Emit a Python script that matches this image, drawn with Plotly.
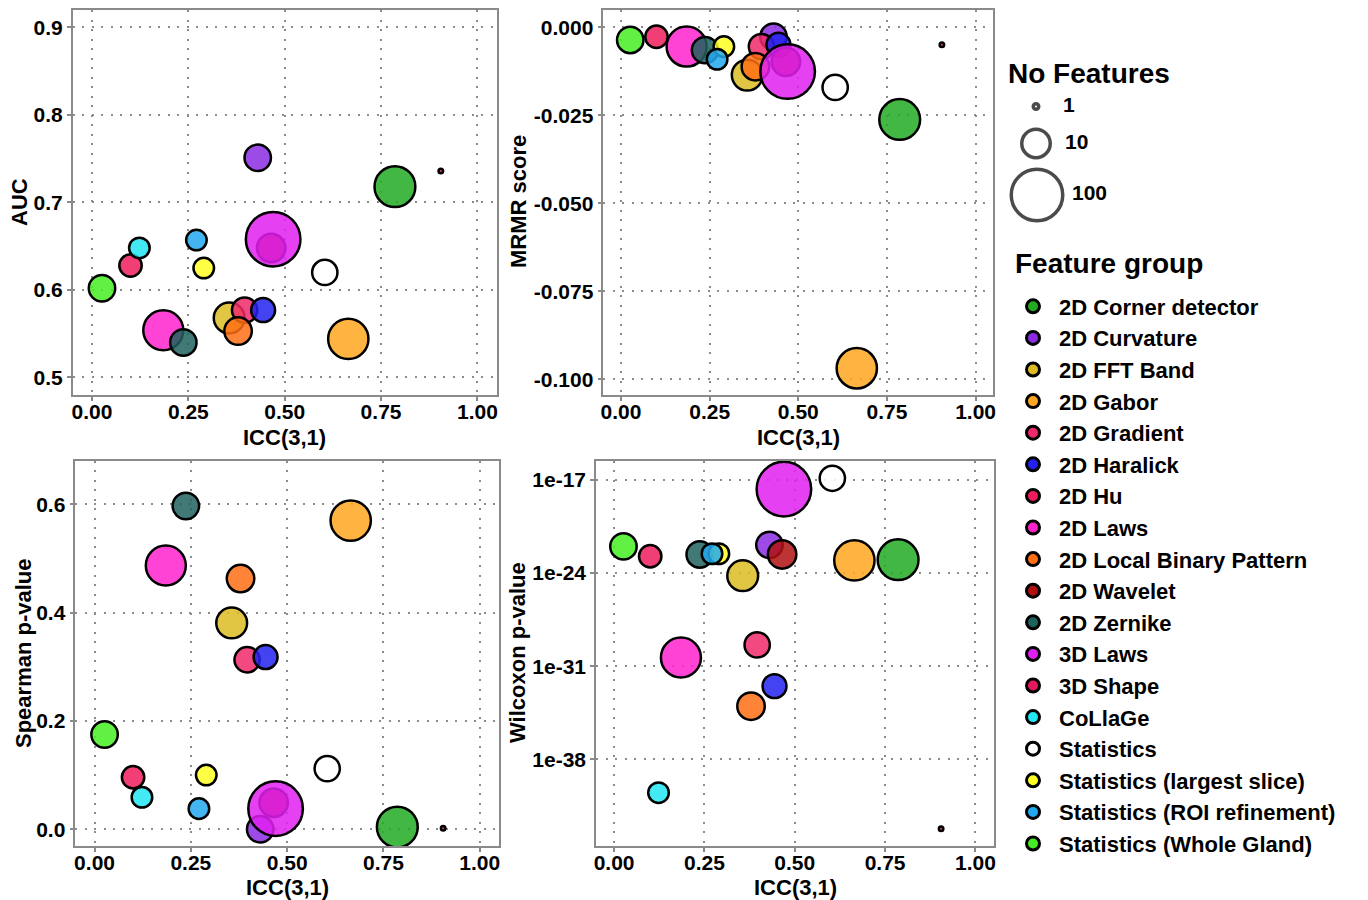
import numpy as np
import plotly.graph_objects as go

# ---------------- data ----------------
groups = ["2D Corner detector", "2D Curvature", "2D FFT Band", "2D Gabor", "2D Gradient",
          "2D Haralick", "2D Hu", "2D Laws", "2D Local Binary Pattern", "2D Wavelet",
          "2D Zernike", "3D Laws", "3D Shape", "CoLlaGe", "Statistics",
          "Statistics (largest slice)", "Statistics (ROI refinement)", "Statistics (Whole Gland)"]
colors = ["#22aa22", "#8b2be2", "#dcbc22", "#ffa620", "#f02a6a",
          "#2222ee", "#ee1c5c", "#ff22cc", "#ff6e14", "#b01010",
          "#1e625e", "#e020f0", "#e8185c", "#22e6f2", "#ffffff",
          "#ffff22", "#22a8ee", "#44ee22"]
n_features = [38, 9, 14, 36, 8, 7, 6, 35, 10, 11, 9, 150, 1, 5, 8, 5, 5, 9]
icc = [0.786, 0.430, 0.356, 0.665, 0.396, 0.444, 0.100, 0.185, 0.379, 0.465,
       0.237, 0.470, 0.905, 0.123, 0.604, 0.290, 0.271, 0.026]
auc = [0.718, 0.751, 0.568, 0.544, 0.577, 0.577, 0.628, 0.554, 0.553, 0.648,
       0.540, 0.658, 0.736, 0.648, 0.620, 0.625, 0.657, 0.602]
mrmr = [-0.0262, -0.0027, -0.0136, -0.0969, -0.0055, -0.0050, -0.0027, -0.0055, -0.0112, -0.0098,
        -0.0065, -0.0126, -0.0050, None, -0.0171, -0.0055, -0.0091, -0.0036]
spearman = [0.004, 0.000, 0.381, 0.570, 0.313, 0.318, 0.096, 0.487, 0.463, 0.049,
            0.597, 0.038, 0.002, 0.059, 0.112, 0.100, 0.038, 0.175]
wilcoxon = [1.0e-23, 1.3e-22, 6.3e-25, 8.9e-24, 4.0e-30, 3.2e-33, 1.8e-23, 4.5e-31, 1.0e-34, 2.5e-23,
            2.5e-23, 2.0e-18, 6.3e-44, 3.2e-41, 1.3e-17, 2.8e-23, 2.8e-23, 1.0e-22]

x_tickvals = [0.0, 0.25, 0.5, 0.75, 1.0]
x_ticktext = ["0.00", "0.25", "0.50", "0.75", "1.00"]
auc_tickvals = [0.5, 0.6, 0.7, 0.8, 0.9]
auc_ticktext = ["0.5", "0.6", "0.7", "0.8", "0.9"]
mrmr_tickvals = [0.0, -0.025, -0.05, -0.075, -0.1]
mrmr_ticktext = ["0.000", "-0.025", "-0.050", "-0.075", "-0.100"]
spear_tickvals = [0.0, 0.2, 0.4, 0.6]
spear_ticktext = ["0.0", "0.2", "0.4", "0.6"]
wil_tickvals = [1e-17, 1e-24, 1e-31, 1e-38]
wil_ticktext = ["1e-17", "1e-24", "1e-31", "1e-38"]
size_legend_values = [1, 10, 100]
size_legend_labels = ["1", "10", "100"]

# ---------------- style ----------------
OFF = 8                      # default page body margin
W, H = 1368 - OFF, 900 - OFF
FONT = "Liberation Sans, Arial, Helvetica, sans-serif"
ALPHA = 0.85
LW = 2.5


def msize(n):
    return 4.5 + 23 * np.log10(np.asarray(n, dtype=float))


def rgba(hexc, a):
    h = hexc.lstrip("#")
    r, g, b = int(h[0:2], 16), int(h[2:4], 16), int(h[4:6], 16)
    return f"rgba({r},{g},{b},{a})"


def px_x(p):
    return (p - OFF) / W


def px_y(p):
    return 1 - (p - OFF) / H


fig = go.Figure()

panels = [("x", "y", auc), ("x2", "y2", mrmr), ("x3", "y3", spearman), ("x4", "y4", wilcoxon)]
for gi, g in enumerate(groups):
    # legend key for the group
    fig.add_trace(go.Scatter(
        x=[None], y=[None], xaxis="x", yaxis="y", mode="markers", name=g, legendgroup=g,
        showlegend=True, hoverinfo="skip",
        marker=dict(size=13, color=colors[gi], line=dict(color="black", width=3)),
    ))
    for pi, (xa, ya, vals) in enumerate(panels):
        v = vals[gi]
        if v is None:
            continue
        fig.add_trace(go.Scatter(
            x=[icc[gi]], y=[v], xaxis=xa, yaxis=ya, mode="markers",
            name=g, legendgroup=g, showlegend=False,
            marker=dict(size=float(msize([n_features[gi]])[0]), color=rgba(colors[gi], ALPHA),
                        line=dict(color="black", width=LW)),
            hovertemplate=f"{g}<br>ICC=%{{x}}<br>%{{y}}<extra></extra>",
        ))

# size legend (own hidden axes, pixel-like coordinates)
fig.add_trace(go.Scatter(
    x=[1036, 1036, 1037], y=[106.5, 143.5, 195],
    xaxis="x5", yaxis="y5", mode="markers", showlegend=False, hoverinfo="skip",
    marker=dict(size=msize(size_legend_values) + 1, color="white", line=dict(color="black", width=3.5)),
))
fig.add_trace(go.Scatter(
    x=[1063, 1065, 1072], y=[106.5, 143.5, 195],
    xaxis="x5", yaxis="y5", mode="text", text=size_legend_labels, textposition="middle right",
    textfont=dict(size=21, color="black", family=FONT, weight="bold"),
    showlegend=False, hoverinfo="skip",
))

grid = dict(showgrid=True, gridcolor="#8c8c8c", gridwidth=2.2, griddash="2px,7.5px",
            zeroline=False, showline=True, mirror=True, linecolor="#8a8a8a", linewidth=1.5,
            ticks="outside", ticklen=4, tickwidth=1.5, tickcolor="#8a8a8a",
            tickfont=dict(size=21, color="black", family=FONT, weight="bold"))
xgrid = dict(grid, ticklabelstandoff=-7)

xr = [-0.05, 1.05]
d_auc_x = [px_x(72.7), px_x(496.7)]
d_mr_x = [px_x(603.3), px_x(993.3)]
d_sp_x = [px_x(75.3), px_x(499)]
d_wi_x = [px_x(596), px_x(993.5)]
d_top_y = [px_y(395), px_y(10)]
d_bot_y = [px_y(846), px_y(460.5)]
box = [1000, 1200, 240, 50]

layout = dict(
    width=W, height=H, margin=dict(l=0, r=0, t=0, b=0, autoexpand=False),
    paper_bgcolor="white", plot_bgcolor="white",
    font=dict(family=FONT, color="black", weight="bold", size=21),
    xaxis=dict(domain=d_auc_x, range=xr, anchor="y", tickvals=x_tickvals, ticktext=x_ticktext, **xgrid),
    yaxis=dict(domain=d_top_y, range=[0.48, 0.9198], anchor="x", tickvals=auc_tickvals,
               ticktext=auc_ticktext, **grid),
    xaxis2=dict(domain=d_mr_x, range=xr, anchor="y2", tickvals=x_tickvals, ticktext=x_ticktext, **xgrid),
    yaxis2=dict(domain=d_top_y, range=[-0.1045, 0.0049], anchor="x2", tickvals=mrmr_tickvals,
                ticktext=mrmr_ticktext, **grid),
    xaxis3=dict(domain=d_sp_x, range=xr, anchor="y3", tickvals=x_tickvals, ticktext=x_ticktext, **xgrid),
    yaxis3=dict(domain=d_bot_y, range=[-0.031, 0.681], anchor="x3", tickvals=spear_tickvals,
                ticktext=spear_ticktext, **grid),
    xaxis4=dict(domain=d_wi_x, range=xr, anchor="y4", tickvals=x_tickvals, ticktext=x_ticktext, **xgrid),
    yaxis4=dict(domain=d_bot_y, type="log", range=[-44.5, -15.55], anchor="x4", tickvals=wil_tickvals,
                ticktext=wil_ticktext, **grid),
    xaxis5=dict(domain=[px_x(box[0]), px_x(box[1])], range=[box[0], box[1]], visible=False, anchor="y5"),
    yaxis5=dict(domain=[px_y(box[2]), px_y(box[3])], range=[box[2], box[3]], visible=False, anchor="x5"),
    legend=dict(
        x=px_x(1007), y=px_y(285.5), xanchor="left", yanchor="top",
        font=dict(size=22, family=FONT, weight="bold", color="black"),
        itemsizing="trace", itemwidth=42, tracegroupgap=0, bgcolor="rgba(0,0,0,0)", borderwidth=0,
        itemclick=False, itemdoubleclick=False,
    ),
    showlegend=True,
)
fig.update_layout(**layout)

ann_font = dict(size=22, family=FONT, weight="bold", color="black")
annotations = [
    dict(text="AUC", x=px_x(20), y=px_y(202), textangle=-90),
    dict(text="MRMR score", x=px_x(519), y=px_y(202), textangle=-90),
    dict(text="Spearman p-value", x=px_x(23), y=px_y(653), textangle=-90),
    dict(text="Wilcoxon p-value", x=px_x(517), y=px_y(653), textangle=-90),
    dict(text="ICC(3,1)", x=px_x(284.7), y=px_y(437)),
    dict(text="ICC(3,1)", x=px_x(798), y=px_y(437)),
    dict(text="ICC(3,1)", x=px_x(287), y=px_y(887)),
    dict(text="ICC(3,1)", x=px_x(795), y=px_y(887)),
]
for a in annotations:
    fig.add_annotation(xref="paper", yref="paper", xanchor="center", yanchor="middle",
                       showarrow=False, font=ann_font, **a)
for txt, xx, yy in [("No Features", 1006, 73), ("Feature group", 1013, 263)]:
    fig.add_annotation(xref="paper", yref="paper", text=txt, x=px_x(xx), y=px_y(yy),
                       xanchor="left", yanchor="middle", showarrow=False,
                       font=dict(size=28, family=FONT, weight="bold", color="black"))

fig.write_html("out.html")
